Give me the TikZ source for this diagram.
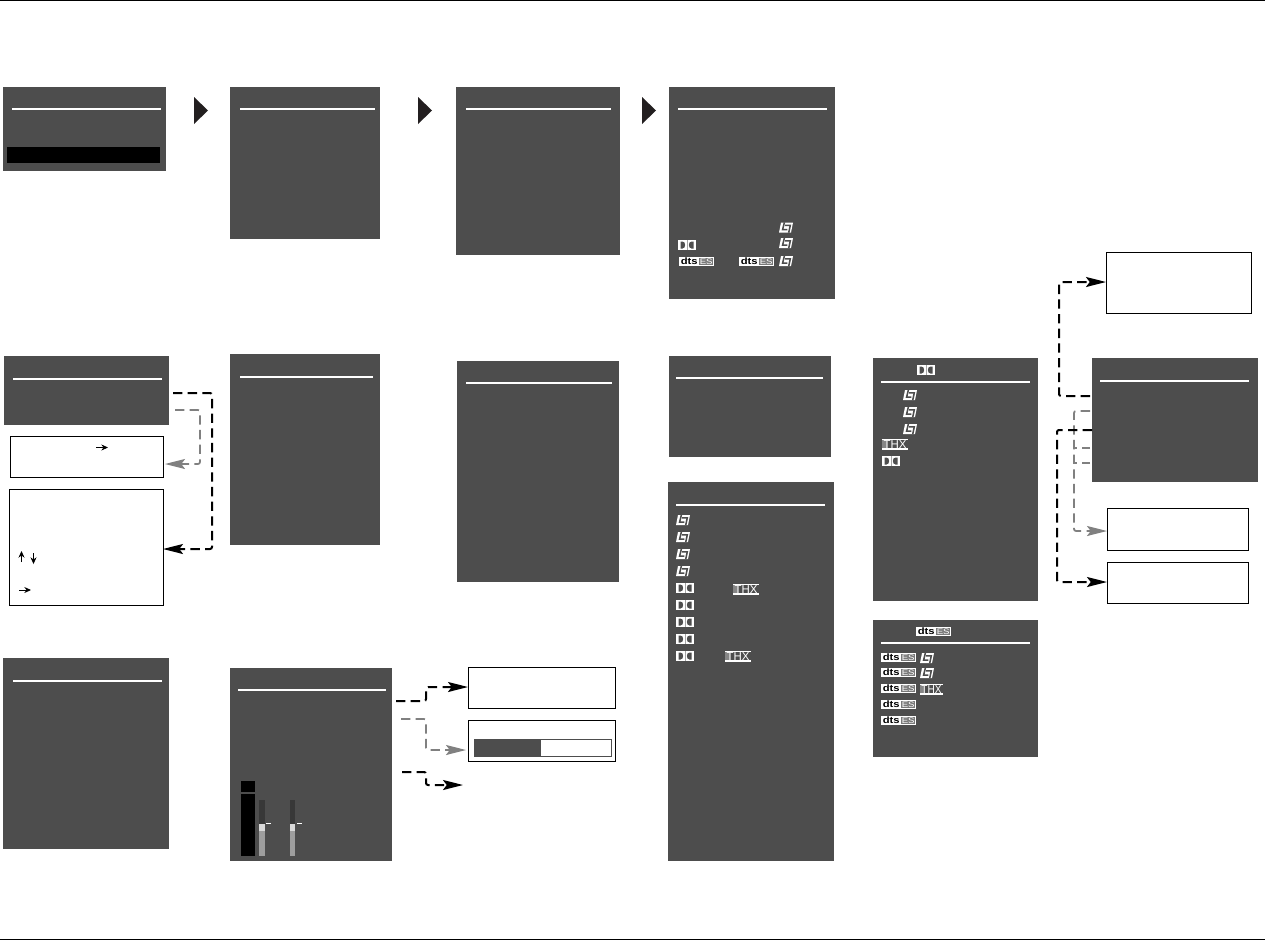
\documentclass[tikz,border=0pt]{standalone}
\usepackage{fontspec}
\setmainfont{Liberation Sans}
\usetikzlibrary{arrows.meta}
\definecolor{panelc}{HTML}{4D4D4D}
\definecolor{grayc}{HTML}{808080}
\definecolor{tric}{HTML}{231F20}
\tikzset{
 panel/.style={fill=panelc,draw=none,inner sep=0,outer sep=0,anchor=north west},
 wbox/.style={draw=black,line width=0.75pt,fill=white,inner sep=0,outer sep=0,anchor=north west},
 rulew/.style={draw=white,line width=1.6pt},
 conn/.style={line width=1.5pt,dash pattern=on 7pt off 4pt,rounded corners=1.5pt,-{Stealth[length=15pt,width=7.5pt,inset=2.8pt]}},
 tiny/.style={line width=0.7pt,-{Stealth[length=5pt,width=4.5pt]}},
 pics/dolby/.style={code={
   \fill[white] (0,0) rectangle (18,10);
   \fill[panelc] (2.5,1.5) -- (4.5,1.5) .. controls (8,1.5) and (8,8.5) .. (4.5,8.5) -- (2.5,8.5) -- cycle;
   \fill[panelc] (15.5,1.5) -- (13.5,1.5) .. controls (10,1.5) and (10,8.5) .. (13.5,8.5) -- (15.5,8.5) -- cycle;
   \fill[black!35] (8.7,0) rectangle (9.5,10);
 }},
 pics/lf/.style={code={
   \fill[white] (2,0) -- (14,0) -- (12,10) -- (0,10) -- cycle;
   \draw[panelc,line width=1.15pt] (5.4,-0.2) -- (3.6,7.2) -- (8.3,7.2);
   \draw[panelc,line width=1.15pt] (5.8,2.8) -- (11.3,2.8) -- (9.7,10.2);
 }},
 pics/dts/.style={code={
   \fill[white] (0,0) rectangle (35,9);
   \fill[panelc!75] (20,0.8) rectangle (34.4,8.2);
   \node[inner sep=0,text=black,xscale=1.2,transform shape] (#1a) at (10.2,3.9) {\fontsize{7}{7}\selectfont\bfseries dts};
   \node[inner sep=0,text=white,xscale=1.2,transform shape] (#1b) at (27.2,4.5) {\fontsize{6}{6}\selectfont ES};
 }},
 pics/thx/.style={code={
   \fill[white] (0,0) rectangle (26,11);
   \fill[panelc] (0,1) rectangle (26,9.2);
   \fill[black!25,opacity=.5] (0,1) rectangle (5,9.2);
   \node[inner sep=0,text=white,transform shape] (#1a) at (13,5.1) {\fontsize{8.6}{8.6}\selectfont THX};
 }},
}
\newcommand{\panelbox}[5]{\node[panel,minimum width=#4*0.75pt,minimum height=#5*0.75pt] (#1) at (#2,#3) {};}
\newcommand{\whitebox}[5]{\node[wbox,minimum width=#4*0.75pt,minimum height=#5*0.75pt] (#1) at (#2,#3) {};}
\newcommand{\hrulew}[3]{\draw[rulew] (#1,#3) -- (#2,#3);}
\begin{document}
\begin{tikzpicture}[x=0.75pt,y=-0.75pt]
\useasboundingbox (0,0) rectangle (1265,940);
\fill[white] (0,0) rectangle (1265,940);
\coordinate (tl) at (0,0.5); \coordinate (tr) at (1265,0.5);
\coordinate (bl) at (0,939); \coordinate (br) at (1265,939);
\draw[black,line width=0.75pt] (tl) -- (tr);
\draw[black,line width=0.75pt] (bl) -- (br);
% panels
\panelbox{p1}{3}{87}{163}{84}
\panelbox{p2}{230}{87}{150}{152}
\panelbox{p3}{456}{87}{164}{168}
\panelbox{p4}{669}{87}{166}{212}
\panelbox{p5}{4}{356}{165}{69}
\panelbox{p6}{230}{354}{150}{191}
\panelbox{p7}{457}{361}{162}{221}
\panelbox{p8}{669}{356}{162}{101}
\panelbox{p9}{668}{482}{166}{379}
\panelbox{p10}{873}{358}{165}{243}
\panelbox{p11}{873}{620}{165}{137}
\panelbox{p12}{1092}{358}{166}{124}
\panelbox{p13}{3}{658}{166}{191}
\panelbox{p14}{230}{668}{162}{193}
% rules
\hrulew{12}{161}{109}
\hrulew{240}{375}{109}
\hrulew{466}{611}{109}
\hrulew{678}{827}{109}
\hrulew{13}{162}{379}
\hrulew{240}{373}{377}
\hrulew{466}{612}{383}
\hrulew{676}{823}{378}
\hrulew{676}{825}{505}
\hrulew{881}{1030}{382}
\hrulew{881}{1030}{643}
\hrulew{1100}{1249}{381}
\hrulew{13}{162}{681}
\hrulew{238}{386}{690}
% black bar in p1
\node[panel,fill=black,minimum width=153*0.75pt,minimum height=16*0.75pt] (bar1) at (7,147) {};
% triangles
\foreach \x in {194,418,642}{
 \fill[tric] (\x,97) -- (\x+14,110.5) -- (\x,124) -- cycle;
}
% white boxes
\whitebox{b1}{10}{436}{153}{41}
\whitebox{b2}{9}{489}{154}{116}
\whitebox{b3}{1106}{252}{145}{61}
\whitebox{b4}{1107}{508}{141}{42}
\whitebox{b5}{1107}{562}{141}{41}
\whitebox{b6}{468}{667}{147}{41}
\whitebox{b7}{468}{720}{147}{41}
% progress bar
\node[panel,fill=white,draw=panelc,line width=0.6pt,minimum width=137*0.75pt,minimum height=17*0.75pt] (pb) at (474,739) {};
\fill[panelc] (474,739) rectangle (541,756);
% small arrows
\coordinate (a1s) at (96,447.5); \coordinate (a1e) at (108,447.5);
\draw[tiny] (a1s) -- (a1e);
\coordinate (a2s) at (21.5,562); \coordinate (a2e) at (21.5,551);
\draw[tiny] (a2s) -- (a2e);
\coordinate (a3s) at (33.5,553); \coordinate (a3e) at (33.5,564);
\draw[tiny] (a3s) -- (a3e);
\coordinate (a4s) at (19,590); \coordinate (a4e) at (31,590);
\draw[tiny] (a4s) -- (a4e);
% meter in p14
\fill[black] (241,781) rectangle (255,792);
\fill[black] (241,794) rectangle (255,856);
\fill[black!78] (259,800) rectangle (265,824);
\fill[black!15] (259,824) rectangle (265,831);
\fill[black!38] (259,831) rectangle (265,856);
\fill[black!78] (290,800) rectangle (295,824);
\fill[black!15] (290,824) rectangle (295,831);
\fill[black!38] (290,831) rectangle (295,856);
\draw[white,line width=0.6pt] (266,823.5) -- (271,823.5);
\draw[white,line width=0.6pt] (297,823.5) -- (302,823.5);
% connector coordinates
\coordinate (c5a) at (173,393);
\coordinate (c5b) at (175,410);
\coordinate (c12a) at (1090,396);
\coordinate (c12b) at (1090,411);
\coordinate (c12c) at (1092,430);
\coordinate (c12d) at (1090,448);
\coordinate (c12e) at (1090,463);
\coordinate (c14a) at (396,701);
\coordinate (c14b) at (401,719);
\coordinate (c14c) at (402,772);
\coordinate (c14d) at (463,785);
% connectors
\draw[conn,black] (c5a) -- (212,393) -- (212,549) -- (b2.east |- 0,549);
\draw[conn,grayc,line width=1.3pt] (c5b) -- (200,410) -- (200,464) -- (165,464);
\draw[conn,black] (c12a) -- (1059,396) -- (1059,282) -- (b3.west |- 0,282);
\draw[conn,grayc,line width=1.3pt] (c12b) -- (1074,411) -- (1074,531) -- (b4.west |- 0,531);
\draw[grayc,line width=1.3pt,dash pattern=on 6pt off 4pt] (c12d) -- (1073,448);
\draw[grayc,line width=1.3pt,dash pattern=on 6pt off 4pt] (c12e) -- (1074,463);
\draw[conn,black] (c12c) -- (1057,430) -- (1057,582) -- (b5.west |- 0,582);
\draw[conn,black] (c14a) -- (426,701) -- (426,687) -- (b6.west |- 0,687);
\draw[conn,grayc,line width=1.3pt] (c14b) -- (426,719) -- (426,750) -- (466,750);
\draw[conn,black] (c14c) -- (426,772) -- (426,785) -- (c14d);
% logos p4
\pic at (779,222.5) {lf};
\pic at (779,238) {lf};
\pic at (779,256) {lf};
\pic at (678,240) {dolby};
\pic at (679,257) {dts=p4x};
\pic at (739,257) {dts=p4y};
% logos p9
\foreach \y in {515,532,549,566} {\pic at (676,\y) {lf};}
\foreach \y in {583,600,617,634,651} {\pic at (676,\y) {dolby};}
\pic at (733,584) {thx=p9x};
\pic at (725,651) {thx=p9y};
% logos p10
\pic at (917,365) {dolby};
\foreach \y in {390,407,424} {\pic at (903,\y) {lf};}
\pic at (882,439) {thx=p10x};
\pic at (882,456) {dolby};
% logos p11
\pic at (916,627) {dts=p11t};
\pic at (881,653) {dts=p11a};
\pic at (881,668) {dts=p11b};
\pic at (881,684) {dts=p11c};
\pic at (881,700) {dts=p11d};
\pic at (881,716) {dts=p11e};
\pic at (920,653) {lf};
\pic at (920,668) {lf};
\pic[xscale=0.88] at (920,684) {thx=p11x};
\end{tikzpicture}
\end{document}
